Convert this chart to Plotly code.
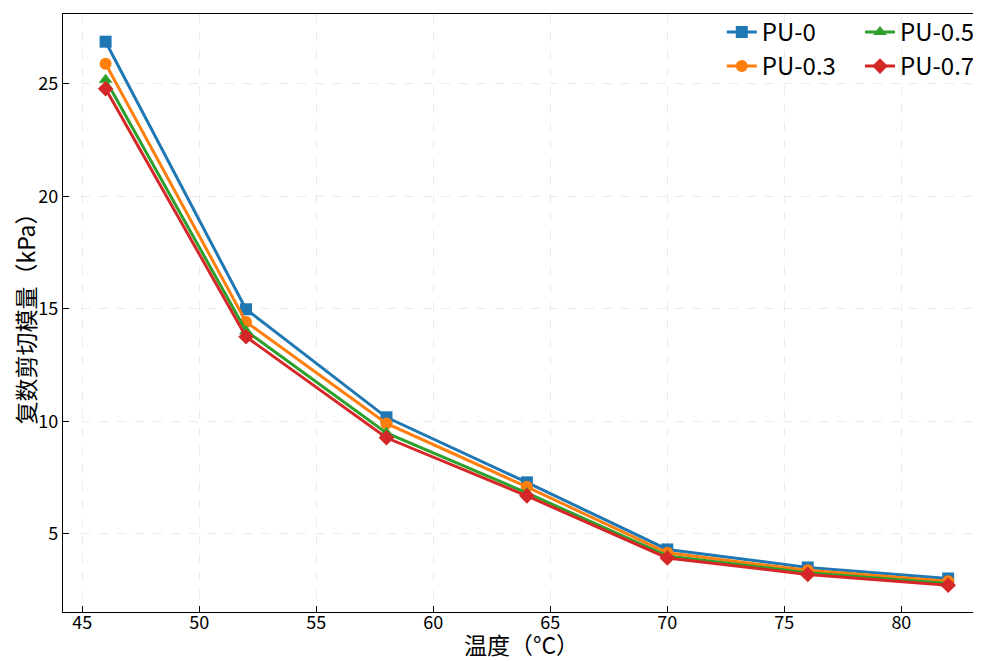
import plotly.graph_objects as go

temps = [46, 52, 58, 64, 70, 76, 82]
pu0 = [26.87, 14.98, 10.18, 7.29, 4.31, 3.51, 3.02]
pu03 = [25.89, 14.42, 9.91, 7.09, 4.16, 3.38, 2.90]
pu05 = [25.18, 14.02, 9.49, 6.82, 4.02, 3.27, 2.80]
pu07 = [24.78, 13.76, 9.27, 6.69, 3.93, 3.20, 2.72]

series = [
    ("PU-0", pu0, "#1f77b4", "square", "legend"),
    ("PU-0.3", pu03, "#ff7f0e", "circle", "legend"),
    ("PU-0.5", pu05, "#2ca02c", "triangle-up", "legend2"),
    ("PU-0.7", pu07, "#d62728", "diamond", "legend2"),
]

FONT = "Noto Sans CJK SC"
fig = go.Figure()
for name, vals, color, sym, leg in series:
    fig.add_trace(go.Scatter(
        x=temps, y=vals, name=name, mode="lines+markers",
        line=dict(color=color, width=3),
        marker=dict(symbol=sym, size=12, color=color),
        legend=leg,
    ))

legfont = dict(family=FONT, size=24, color="black")
fig.update_layout(
    autosize=False,
    width=973, height=653,
    margin=dict(l=55, r=1, t=6, b=49),
    plot_bgcolor="white", paper_bgcolor="white",
    font=dict(family=FONT, size=17, color="black"),
    legend=dict(x=0.7184, y=1.007, xanchor="left", yanchor="top",
                bgcolor="rgba(0,0,0,0)", font=legfont, tracegroupgap=0,
                itemwidth=30),
    legend2=dict(x=1.0, y=1.007, xanchor="right", yanchor="top",
                 bgcolor="rgba(0,0,0,0)", font=legfont, tracegroupgap=0,
                 itemwidth=30),
    xaxis=dict(
        range=[44.18, 83.36], tickvals=[45, 50, 55, 60, 65, 70, 75, 80],
        ticks="inside", ticklen=6, tickwidth=1, tickcolor="black",
        showline=True, linecolor="black", linewidth=1.2, mirror=True,
        showgrid=True, gridcolor="#ebebeb", griddash="dash", gridwidth=1,
        zeroline=False, ticklabelstandoff=-6, automargin=False,
        title=dict(text="温度（°C）", font=dict(family=FONT, size=23), standoff=6),
        tickfont=dict(family=FONT, size=18),
    ),
    yaxis=dict(
        range=[1.53, 28.1], tickvals=[5, 10, 15, 20, 25],
        ticks="inside", ticklen=6, tickwidth=1, tickcolor="black",
        showline=True, linecolor="black", linewidth=1.2, mirror=True,
        showgrid=True, gridcolor="#ebebeb", griddash="dash", gridwidth=1,
        zeroline=False, ticklabelstandoff=0, automargin=False,
        title=dict(text="复数剪切模量（kPa）", font=dict(family=FONT, size=23), standoff=9),
        tickfont=dict(family=FONT, size=18),
    ),
)

fig.write_html("out.html")
